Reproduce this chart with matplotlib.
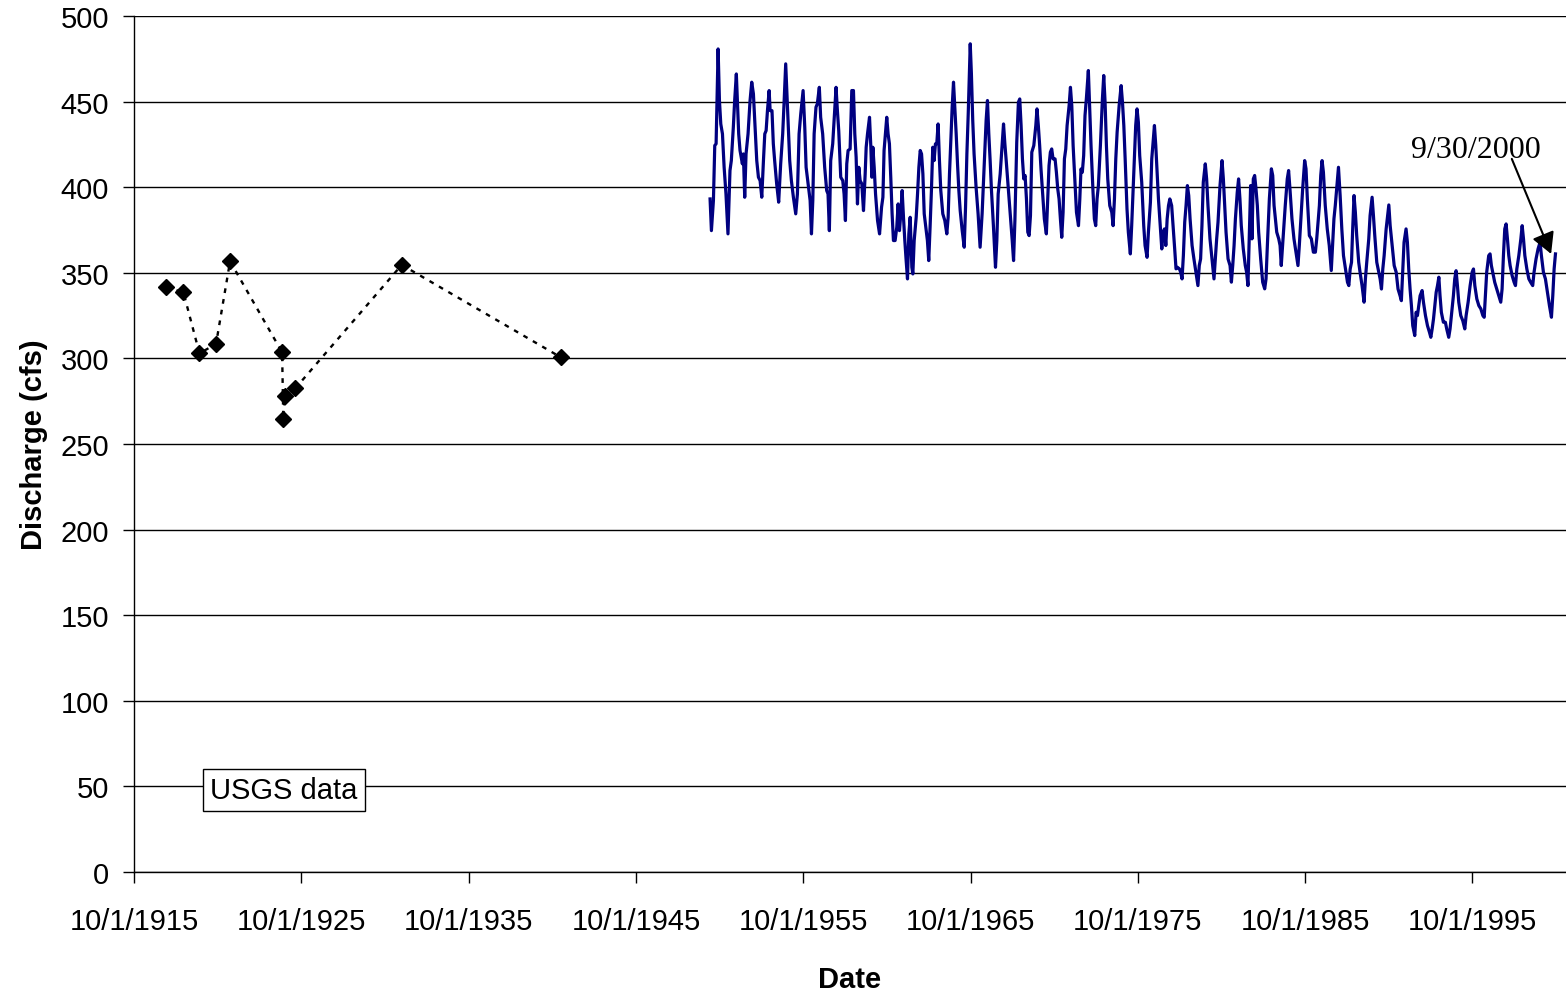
import matplotlib
matplotlib.use("Agg")
import matplotlib.pyplot as plt

plt.rcParams['font.family'] = ['Liberation Sans', 'DejaVu Sans']

# USGS spot measurements (decimal year, cfs)
usgs_year = [1917.66, 1918.70, 1919.66, 1920.65, 1921.49, 1924.60, 1924.67,
             1924.79, 1925.39, 1931.75, 1941.26]
usgs_cfs = [341.5, 338.6, 302.9, 308.4, 356.7, 303.5, 264.6, 277.9, 282.5,
            354.6, 300.6]

# gauged record (decimal year, cfs)
flow_year = [
    1950.18, 1950.26, 1950.38, 1950.46, 1950.54, 1950.58, 1950.66, 1950.74, 1950.82, 1950.92,
    1951.02, 1951.13, 1951.25, 1951.37, 1951.45, 1951.57, 1951.65, 1951.75, 1951.81, 1951.89,
    1951.97, 1952.11, 1952.17, 1952.25, 1952.33, 1952.45, 1952.57, 1952.67, 1952.77, 1952.85,
    1952.97, 1953.07, 1953.17, 1953.27, 1953.37, 1953.45, 1953.53, 1953.61, 1953.71, 1953.77,
    1953.88, 1953.96, 1954.04, 1954.16, 1954.28, 1954.40, 1954.52, 1954.60, 1954.70, 1954.76,
    1954.84, 1954.94, 1955.04, 1955.16, 1955.30, 1955.40, 1955.50, 1955.60, 1955.74, 1955.84,
    1955.92, 1956.04, 1956.16, 1956.24, 1956.32, 1956.40, 1956.51, 1956.59, 1956.71, 1956.79,
    1956.91, 1957.03, 1957.15, 1957.23, 1957.31, 1957.39, 1957.51, 1957.59, 1957.71, 1957.79,
    1957.87, 1957.99, 1958.11, 1958.19, 1958.27, 1958.35, 1958.43, 1958.55, 1958.65, 1958.75,
    1958.83, 1958.91, 1958.99, 1959.07, 1959.15,
    1959.25, 1959.35, 1959.45, 1959.51, 1959.59, 1959.71, 1959.79, 1959.85, 1959.91, 1959.99,
    1960.07, 1960.19, 1960.31, 1960.43, 1960.51, 1960.58, 1960.74, 1960.82, 1960.90, 1960.98,
    1961.06, 1961.14, 1961.24, 1961.34, 1961.42, 1961.50, 1961.58, 1961.66, 1961.74, 1961.82,
    1961.90, 1961.98, 1962.06, 1962.14, 1962.24, 1962.30, 1962.38, 1962.50, 1962.58, 1962.66,
    1962.74, 1962.82, 1962.90, 1962.98, 1963.10, 1963.17, 1963.25, 1963.33, 1963.41, 1963.49,
    1963.57, 1963.65, 1963.73, 1963.81, 1963.89, 1963.97, 1964.09, 1964.21, 1964.33, 1964.41,
    1964.49, 1964.57, 1964.65, 1964.73, 1964.81, 1964.89, 1964.97, 1965.05, 1965.13, 1965.25,
    1965.37, 1965.45, 1965.53, 1965.61, 1965.73, 1965.80, 1965.88, 1965.96, 1966.08, 1966.20,
    1966.32, 1966.44, 1966.56, 1966.68, 1966.76, 1966.84, 1966.92, 1967.00, 1967.12, 1967.24,
    1967.32, 1967.40, 1967.52, 1967.64, 1967.72, 1967.80, 1967.88, 1968.00, 1968.12, 1968.24,
    1968.32, 1968.40,
    1968.51, 1968.61, 1968.69, 1968.77, 1968.85, 1968.93, 1969.01, 1969.09, 1969.17, 1969.25,
    1969.33, 1969.41, 1969.53, 1969.65, 1969.72, 1969.80, 1969.88, 1969.96, 1970.08, 1970.16,
    1970.28, 1970.36, 1970.44, 1970.52, 1970.60, 1970.68, 1970.80, 1970.88, 1970.96, 1971.04,
    1971.12, 1971.20, 1971.28, 1971.36, 1971.44, 1971.52, 1971.64, 1971.72, 1971.80, 1971.88,
    1972.00, 1972.08, 1972.20, 1972.28, 1972.35, 1972.43, 1972.51, 1972.59, 1972.67, 1972.79,
    1972.87, 1972.95, 1973.07, 1973.15, 1973.23, 1973.31, 1973.39, 1973.51, 1973.63, 1973.71,
    1973.79, 1973.87, 1973.95, 1974.07, 1974.19, 1974.27, 1974.35, 1974.43, 1974.51, 1974.63,
    1974.75, 1974.83, 1974.91, 1974.99, 1975.10, 1975.18, 1975.30, 1975.38, 1975.46, 1975.54,
    1975.62, 1975.70, 1975.78, 1975.86, 1975.98, 1976.10, 1976.18, 1976.30, 1976.38, 1976.50,
    1976.58, 1976.66, 1976.74, 1976.82, 1976.90, 1976.98, 1977.10, 1977.18, 1977.26, 1977.34,
    1977.42, 1977.50, 1977.58, 1977.66,
    1977.77, 1977.87, 1977.95, 1978.03, 1978.11, 1978.23, 1978.31, 1978.39, 1978.47, 1978.55,
    1978.63, 1978.71, 1978.79, 1978.87, 1978.99, 1979.10, 1979.22, 1979.34, 1979.42, 1979.50,
    1979.58, 1979.66, 1979.78, 1979.86, 1979.94, 1980.06, 1980.18, 1980.30, 1980.38, 1980.46,
    1980.54, 1980.66, 1980.78, 1980.86, 1980.94, 1981.02, 1981.14, 1981.26, 1981.34, 1981.42,
    1981.50, 1981.58, 1981.69, 1981.77, 1981.85, 1981.93, 1982.05, 1982.17, 1982.25, 1982.33,
    1982.41, 1982.49, 1982.57, 1982.65, 1982.73, 1982.81, 1982.89, 1982.97, 1983.09, 1983.21,
    1983.33, 1983.41, 1983.49, 1983.61, 1983.73, 1983.81, 1983.89, 1983.97, 1984.05, 1984.17,
    1984.25, 1984.32, 1984.40, 1984.48, 1984.56, 1984.68, 1984.76, 1984.84, 1984.96, 1985.08,
    1985.20, 1985.32, 1985.40, 1985.48, 1985.60, 1985.72, 1985.80, 1985.88, 1986.00, 1986.12,
    1986.24, 1986.36, 1986.44, 1986.52, 1986.60, 1986.68, 1986.76, 1986.84, 1986.95, 1987.07,
    1987.19, 1987.31, 1987.39, 1987.47, 1987.55, 1987.63,
    1987.74, 1987.84, 1987.94, 1988.04, 1988.16, 1988.28, 1988.36, 1988.44, 1988.52, 1988.59,
    1988.67, 1988.75, 1988.83, 1988.95, 1989.03, 1989.15, 1989.27, 1989.35, 1989.43, 1989.55,
    1989.63, 1989.75, 1989.83, 1989.91, 1990.03, 1990.15, 1990.23, 1990.31, 1990.39, 1990.47,
    1990.59, 1990.75, 1990.83, 1990.95, 1991.07, 1991.19, 1991.30, 1991.42, 1991.50, 1991.58,
    1991.66, 1991.78, 1991.86, 1991.94, 1992.02, 1992.10, 1992.18, 1992.30, 1992.38, 1992.46,
    1992.54, 1992.62, 1992.74, 1992.82, 1992.94, 1993.06, 1993.18, 1993.26, 1993.34, 1993.42,
    1993.50, 1993.58, 1993.66, 1993.74, 1993.81, 1993.89, 1994.01, 1994.13, 1994.21, 1994.33,
    1994.41, 1994.49, 1994.61, 1994.69, 1994.77, 1994.85, 1994.93, 1995.05, 1995.17, 1995.29,
    1995.37, 1995.49, 1995.61, 1995.73, 1995.81, 1995.89, 1996.01, 1996.13, 1996.25, 1996.37,
    1996.45, 1996.52, 1996.60, 1996.72, 1996.80, 1996.88, 1996.96, 1997.08, 1997.20, 1997.32,
    1997.44, 1997.52, 1997.60, 1997.68, 1997.76, 1997.84, 1997.92, 1998.00, 1998.12, 1998.24,
    1998.32, 1998.40, 1998.52, 1998.64, 1998.72, 1998.80, 1998.88, 1999.00, 1999.12, 1999.23,
    1999.35, 1999.43, 1999.55, 1999.67, 1999.79, 1999.87, 1999.99, 2000.11, 2000.23, 2000.35,
    2000.47, 2000.55, 2000.63, 2000.71,
]
flow_cfs = [
    393.1, 374.6, 392.2, 424.3, 425.3, 442.8, 480.7, 450.6, 436.9, 431.1,
    411.6, 396.0, 372.7, 409.7, 415.5, 435.0, 450.6, 466.1, 450.6, 431.1,
    421.4, 413.6, 419.4, 394.1, 419.4, 431.1, 450.6, 461.3, 454.5, 438.9,
    415.5, 405.8, 403.8, 394.1, 415.5, 431.1, 433.0, 444.7, 456.4, 444.7,
    444.7, 425.3, 415.5, 401.9, 391.2, 413.6, 431.1, 448.6, 472.0, 458.4,
    438.9, 415.5, 403.8, 394.1, 384.4, 396.0, 431.1, 442.8, 456.4, 435.0,
    411.6, 401.9, 392.2, 372.7, 392.2, 431.1, 446.7, 448.6, 458.3, 440.8,
    431.1, 411.6, 398.0, 396.0, 374.6, 415.5, 425.3, 438.9, 458.3, 444.7,
    433.0, 405.8, 403.8, 396.0, 380.5, 413.6, 421.4, 422.3, 456.4, 456.4,
    431.1, 417.5, 390.2, 411.6, 403.8,
    401.9, 386.3, 407.7, 423.3, 431.1, 440.8, 423.3, 405.8, 423.3, 411.6,
    396.0, 380.5, 372.7, 388.3, 394.1, 421.4, 440.8, 431.1, 425.3, 405.8,
    384.4, 368.8, 368.8, 376.6, 390.2, 374.6, 384.4, 398.0, 382.4, 368.8,
    357.1, 346.4, 372.7, 382.4, 353.2, 349.3, 368.8, 382.4, 396.0, 411.6,
    421.4, 419.4, 407.7, 384.4, 374.6, 368.8, 357.1, 376.6, 398.0, 423.3,
    415.5, 425.3, 425.3, 436.9, 415.5, 398.0, 384.4, 380.5, 372.7, 382.4,
    407.7, 427.2, 446.7, 461.3, 446.7, 431.1, 413.6, 398.0, 386.3, 374.6,
    364.9, 388.3, 419.4, 442.8, 483.7, 466.1, 438.9, 419.4, 399.9, 384.4,
    364.9, 384.4, 411.6, 438.9, 450.6, 431.1, 415.5, 398.0, 376.6, 353.2,
    368.8, 396.0, 407.7, 425.3, 436.9, 425.3, 415.5, 399.9, 384.4, 368.8,
    357.1, 380.5,
    426.2, 449.6, 451.5, 436.0, 416.5, 404.8, 406.8, 393.1, 373.7, 371.7,
    383.4, 420.4, 424.3, 436.0, 445.7, 436.0, 424.3, 410.6, 393.1, 381.4,
    372.7, 393.1, 412.6, 420.4, 422.3, 416.5, 416.5, 408.7, 399.0, 393.1,
    381.4, 370.7, 385.3, 416.5, 422.3, 436.0, 447.6, 458.3, 447.6, 424.3,
    400.9, 385.3, 377.5, 393.1, 410.6, 408.7, 418.4, 441.8, 451.5, 468.1,
    445.7, 424.3, 397.0, 381.4, 377.5, 393.1, 400.9, 424.3, 451.5, 465.2,
    449.6, 424.3, 404.8, 389.2, 385.3, 377.5, 393.1, 416.5, 432.1, 447.6,
    459.3, 449.6, 436.0, 416.5, 387.3, 373.7, 361.0, 377.5, 397.0, 416.5,
    436.0, 445.7, 437.9, 418.4, 402.9, 377.5, 365.9, 359.0, 373.7, 391.2,
    416.5, 426.2, 436.0, 424.3, 408.7, 393.1, 375.6, 363.9, 373.7, 375.6,
    365.9, 381.4, 389.2, 393.1,
    389.2, 375.6, 364.0, 352.3, 353.2, 352.3, 350.3, 346.4, 360.1, 379.5,
    389.3, 400.9, 395.1, 381.5, 365.9, 358.1, 350.3, 342.5, 354.2, 358.1,
    377.6, 402.9, 413.6, 404.8, 389.3, 369.8, 358.1, 346.4, 358.1, 369.8,
    379.5, 400.9, 415.5, 404.8, 389.3, 373.7, 358.1, 354.2, 344.5, 354.2,
    365.9, 381.5, 397.0, 404.8, 393.2, 377.6, 364.0, 354.2, 350.3, 342.5,
    371.7, 400.9, 369.8, 404.8, 406.8, 399.0, 389.3, 373.7, 358.1, 344.5,
    340.6, 346.4, 365.9, 393.2, 410.7, 406.8, 389.3, 381.5, 373.7, 369.8,
    365.9, 354.2, 365.9, 377.6, 389.3, 404.8, 409.7, 399.0, 381.5, 369.8,
    362.0, 354.2, 365.9, 379.5, 399.0, 415.5, 410.7, 393.2, 371.7, 369.8,
    362.0, 362.0, 369.8, 379.5, 389.3, 406.8, 415.5, 408.7, 389.3, 375.6,
    365.9, 351.3, 365.9, 381.5, 389.3, 399.0,
    411.6, 395.1, 375.6, 360.0, 352.2, 344.4, 342.5, 352.2, 356.1, 375.6,
    395.1, 385.3, 371.7, 356.1, 350.3, 342.5, 332.8, 346.4, 356.1, 369.7,
    383.4, 394.1, 383.4, 371.7, 356.1, 350.3, 346.4, 340.5, 352.2, 360.0,
    375.6, 389.6, 377.5, 365.9, 354.2, 350.3, 340.5, 336.6, 333.7, 350.3,
    367.8, 375.6, 367.8, 352.2, 340.5, 330.8, 319.1, 313.3, 326.9, 325.0,
    330.8, 336.6, 339.6, 332.8, 325.0, 319.1, 315.2, 312.3, 317.2, 323.0,
    330.8, 338.6, 342.5, 347.4, 336.6, 326.9, 321.1, 321.1, 317.2, 312.3,
    317.2, 325.0, 336.6, 346.4, 351.2, 342.5, 332.8, 325.0, 322.0, 317.2,
    325.0, 332.8, 342.5, 350.3, 352.2, 342.5, 334.7, 330.8, 328.9, 325.0,
    324.0, 336.6, 350.3, 360.0, 361.0, 354.2, 350.3, 344.4, 340.5, 336.6,
    332.8, 340.5, 360.0, 375.6, 378.5, 369.7, 360.0, 354.2, 348.3, 344.4,
    342.5, 352.2, 360.0, 369.7, 377.5, 369.7, 360.0, 352.2, 346.4, 344.4,
    342.5, 350.3, 358.1, 363.9, 367.8, 360.0, 350.3, 346.4, 338.6, 330.8,
    324.0, 336.6, 352.2, 361.0,
]

tick_years = [1915, 1925, 1935, 1945, 1955, 1965, 1975, 1985, 1995]
tick_pos = [y + 0.75 for y in tick_years]          # water year start, 10/1
tick_labels = [f"10/1/{y}" for y in tick_years]

fig = plt.figure(figsize=(15.66, 9.95), dpi=100)
ax = fig.add_axes([0.0856, 0.1226, 0.9144, 0.8604])

ax.plot(usgs_year, usgs_cfs, color='black', linestyle=(0, (2, 2.6)), lw=1.7,
        marker='D', markersize=8.5, zorder=3)
ax.plot(flow_year, flow_cfs, color='#000080', lw=2.3, zorder=3)

ax.set_xlim(1915.75, 2001.34)
ax.set_ylim(0, 500)
ax.set_yticks(range(0, 501, 50))
ax.set_xticks(tick_pos)
ax.set_xticklabels(tick_labels)

ax.yaxis.grid(True, color='black', lw=1.0)
ax.set_axisbelow(True)
for s in ['top', 'right']:
    ax.spines[s].set_visible(False)
for s in ['left', 'bottom']:
    ax.spines[s].set_color('black')
    ax.spines[s].set_linewidth(1.0)

ax.tick_params(axis='both', direction='out', length=8, width=1, colors='black', labelsize=21)
ax.tick_params(axis='x', pad=17)
ax.tick_params(axis='y', pad=10)

ax.set_xlabel('Date', fontsize=21, fontweight='bold', labelpad=22)
ax.set_ylabel('Discharge (cfs)', fontsize=21, fontweight='bold', labelpad=9)

ax.text(1924.72, 47.9, 'USGS data', fontsize=21, ha='center', va='center', zorder=4,
        bbox=dict(boxstyle='square,pad=0.25', facecolor='white', edgecolor='black', lw=1.0))

ax.text(1995.97, 422.0, '9/30/2000', fontsize=23, family=['Liberation Serif', 'DejaVu Serif'],
        ha='center', va='center', zorder=4)
ax.annotate('', xy=(2000.45, 361.0), xytext=(1998.10, 416.5),
            arrowprops=dict(arrowstyle='-|>,head_length=0.4,head_width=0.22', color='black',
                            lw=1.5, mutation_scale=32, shrinkA=0, shrinkB=0), zorder=5)

fig.savefig('out.png', dpi=100)
